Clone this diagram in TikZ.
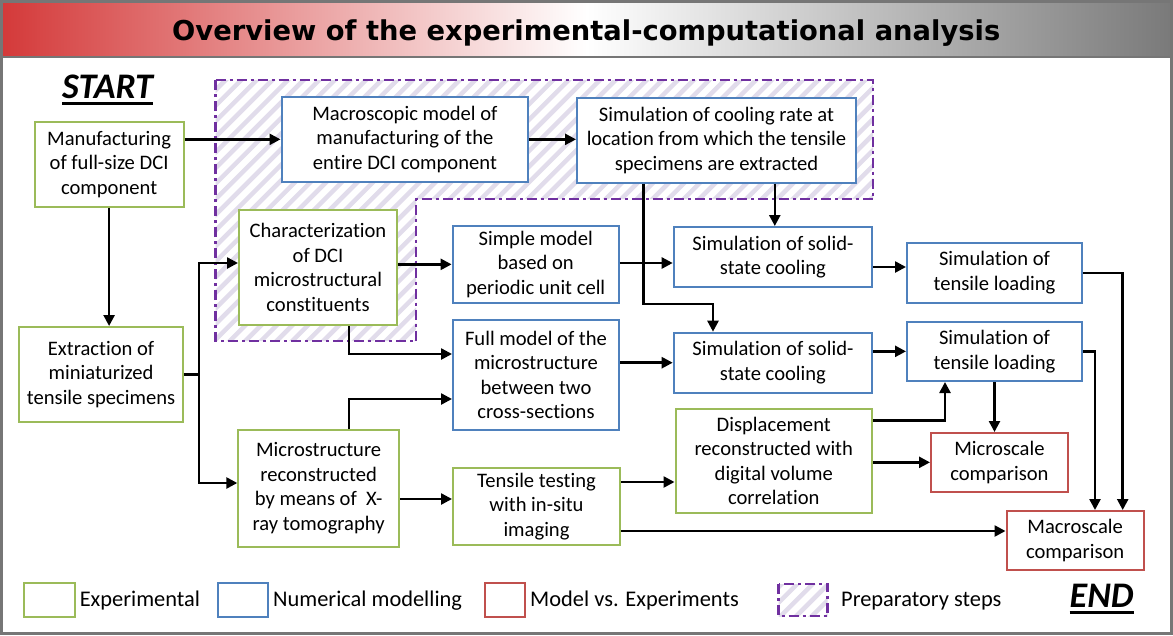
\documentclass[tikz,border=0pt]{standalone}
\usepackage{fontspec}
\usepackage{graphicx}
\setmainfont{Carlito}[Ligatures=NoCommon]
\newfontfamily\titlefont{DejaVu Sans}
\usetikzlibrary{arrows.meta}
\definecolor{gr}{HTML}{9BBB59}
\definecolor{bl}{HTML}{4F81BD}
\definecolor{rd}{HTML}{C0504D}
\definecolor{pu}{HTML}{7030A0}
\definecolor{hatchc}{HTML}{E1DCEB}
\definecolor{bordc}{HTML}{767676}
\definecolor{tred}{HTML}{D43A3A}
\definecolor{tgray}{HTML}{7A7A7A}
\newcommand\bx[7]{\node[#1, anchor=north west, minimum width={(#5-#3)*1pt}, minimum height={(#6-#4)*1pt}] (#2) at (#3,#4) {#7};}
\tikzset{
  boxbase/.style={draw, line width=2pt, fill=white, align=center, inner sep=0pt,
    font=\fontsize{20.6}{24.6}\selectfont},
  gbox/.style={boxbase, draw=gr},
  bbox/.style={boxbase, draw=bl},
  rbox/.style={boxbase, draw=rd},
  ln/.style={line width=2.5pt, black},
  arr/.style={line width=2.5pt, black, -{Triangle[length=11pt,width=11pt]}},
  hatchln/.style={line width=4.5pt, hatchc},
  prepline/.style={line width=2.5pt, pu, dash pattern=on 10pt off 4pt on 3pt off 4pt},
  legtxt/.style={anchor=base west, inner sep=0pt, font=\fontsize{22.4}{26}\selectfont},
  bigtxt/.style={anchor=base west, inner sep=0pt, font=\fontsize{36}{36}\selectfont\bfseries\itshape}
}
\begin{document}
\begin{tikzpicture}[x=1pt, y=-1pt]
\useasboundingbox (0,0) rectangle (1173,635);
% frame and title bar
\fill[bordc] (0,0) rectangle (1173,635);
\shade[left color=tred, right color=tgray, middle color=white] (3,3) rectangle (1170,55);
\fill[white] (3,58) rectangle (1170,632);
\node[anchor=base west, inner sep=0pt] (title) at (172,40.5)
  {\resizebox{828pt}{!}{\titlefont\bfseries Overview of the experimental-computational analysis}};
% preparatory region
\begin{scope}
  \clip (215.5,80) -- (873,80) -- (873,199) -- (416,199) -- (416,341) -- (215.5,341) -- cycle;
  \foreach \c in {290,305.6,...,1230} \draw[hatchln] (\c-70,70) -- (\c-350,350);
\end{scope}
\draw[prepline] (215.5,80) -- (873,80) -- (873,199) -- (416,199) -- (416,341) -- (215.5,341) -- cycle;
% START / END
\node[bigtxt] (st) at (62,98.5) {START};
\draw[line width=2.2pt] ([yshift=-5pt]st.base west) -- ([yshift=-5pt]st.base east);
\node[bigtxt] (en) at (1069.5,607.5) {END};
\draw[line width=2.2pt] ([yshift=-5pt]en.base west) -- ([yshift=-5pt]en.base east);
% boxes
\bx{gbox}{man}{33.7}{120.7}{182.5}{205.7}{Manufacturing\\of full-size DCI\\component}
\bx{gbox}{ext}{18.4}{326}{181.8}{421}{Extraction of\\miniaturized\\tensile specimens}
\bx{bbox}{mac}{280.5}{95.7}{527.4}{181}{Macroscopic model of\\manufacturing of the\\entire DCI component}
\bx{bbox}{scr}{576}{96.7}{855}{181.7}{Simulation of cooling rate at\\location from which the tensile\\specimens are extracted}
\bx{gbox}{chr}{238}{209}{396}{324}{Characterization\\of DCI\\microstructural\\constituents}
\bx{bbox}{sim}{451.6}{225}{617.8}{301.7}{Simple model\\based on\\periodic unit cell}
\bx{bbox}{ful}{452}{319}{618}{429}{Full model of the\\microstructure\\between two\\cross-sections}
\bx{bbox}{ss1}{672.7}{226}{871.2}{286}{Simulation of solid-\\state cooling}
\bx{bbox}{ss2}{672.7}{331.7}{871.2}{391.7}{Simulation of solid-\\state cooling}
\bx{bbox}{tl1}{906}{242}{1081}{301.7}{Simulation of\\tensile loading}
\bx{bbox}{tl2}{906}{320.7}{1081}{380}{Simulation of\\tensile loading}
\bx{gbox}{mic}{237.3}{429}{398}{545.7}{Microstructure\\reconstructed\\by means of\ \ X-\\ray tomography}
\bx{gbox}{ten}{452}{467}{619}{544}{Tensile testing\\with in-situ\\imaging}
\bx{gbox}{dis}{674.5}{408}{871}{512}{Displacement\\reconstructed with\\digital volume\\correlation}
\bx{rbox}{mis}{930}{432}{1066.8}{490.7}{Microscale\\comparison}
\bx{rbox}{mas}{1005.5}{510}{1142.8}{569}{Macroscale\\comparison}
% connectors
\draw[arr] (man.east |- mac.west) -- (mac.west);
\draw[arr] (mac.east) -- (mac.east -| scr.west);
\draw[arr] (man.south) -- (man.south |- ext.north);
\coordinate (t1) at (199,263);
\coordinate (t2) at (199,483);
\draw[ln] (ext.east) -- (ext.east -| t1);
\draw[arr] (ext.east -| t1) -- (t1) -- (t1 -| chr.west);
\draw[arr] (ext.east -| t1) -- (t2) -- (t2 -| mic.west);
\draw[arr] (chr.east |- sim.west) -- (sim.west);
\coordinate (k1) at (349,354);
\draw[arr] (chr.south -| k1) -- (k1) -- (k1 -| ful.west);
\coordinate (k2) at (349,399);
\draw[arr] (mic.north -| k2) -- (k2) -- (k2 -| ful.west);
\coordinate (k3) at (643.5,304);
\coordinate (k4) at (713,304);
\draw[arr] (scr.south -| k3) -- (k3) -- (k4) -- (k4 |- ss2.north);
\coordinate (k5) at (774.8,200);
\draw[arr] (scr.south -| k5) -- (k5 |- ss1.north);
\coordinate (k6) at (640,263);
\draw[arr] (sim.east |- k6) -- (k6 -| ss1.west);
\draw[arr] (ful.east |- ss2.west) -- (ss2.west);
\coordinate (k7) at (890,267);
\draw[arr] (ss1.east |- k7) -- (k7 -| tl1.west);
\draw[arr] (ss2.east |- tl2.west) -- (tl2.west);
\coordinate (k8) at (1122.7,271);
\draw[arr] (tl1.east) -- (tl1.east -| k8) -- (k8 |- mas.north);
\coordinate (k9) at (1095,350);
\draw[arr] (tl2.east) -- (tl2.east -| k9) -- (k9 |- mas.north);
\draw[arr] (tl2.south) -- (tl2.south |- mis.north);
\coordinate (k10) at (945,420.7);
\draw[arr] (dis.east |- k10) -- (k10) -- (k10 |- tl2.south);
\draw[arr] (dis.east |- mis.west) -- (mis.west);
\coordinate (k11) at (420,499);
\draw[arr] (mic.east |- k11) -- (k11 -| ten.west);
\coordinate (k12) at (640,482);
\draw[arr] (ten.east |- k12) -- (k12 -| dis.west);
\coordinate (k13) at (800,531);
\draw[arr] (ten.east |- k13) -- (k13 -| mas.west);
% legend
\bx{gbox}{lg1}{23}{582}{74}{616}{}
\node[legtxt] (lt1) at (79.6,606) {Experimental};
\bx{bbox}{lg2}{216.6}{582}{267}{616}{}
\node[legtxt] (lt2) at (273,606) {Numerical modelling};
\bx{rbox}{lg3}{484}{582}{524}{616}{}
\node[legtxt] (lt3) at (530,606) {Model vs. Experiments};
\begin{scope}
  \clip (778.6,584) rectangle (827.7,616);
  \foreach \c in {1350,1365.6,...,1460} \draw[hatchln] (\c-570,570) -- (\c-630,630);
\end{scope}
\draw[prepline] (778.6,584) rectangle (827.7,616);
\node[legtxt] (lt4) at (841,606) {Preparatory steps};
\end{tikzpicture}
\end{document}
